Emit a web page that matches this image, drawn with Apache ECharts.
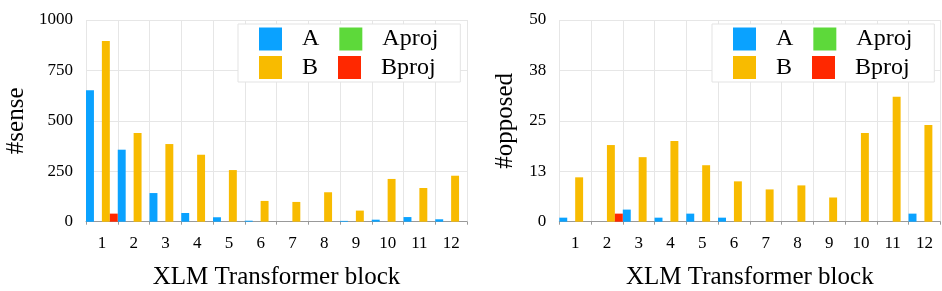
<!DOCTYPE html>
<html>
<head>
<meta charset="utf-8">
<script src="https://cdn.jsdelivr.net/npm/echarts@6/dist/echarts.min.js"></script>
<style>
html,body{margin:0;padding:0;background:#fff;}
#chart{width:942px;height:291px;}
</style>
</head>
<body>
<div id="chart"></div>
<script>
const categories = ['1','2','3','4','5','6','7','8','9','10','11','12'];
const seriesNames = ['A','Aproj','B','Bproj'];

// left panel: #sense
const senseA     = [652, 357, 142, 43, 22, 5, 0, 0, 4, 10, 23, 12];
const senseAproj = [0, 0, 0, 0, 0, 0, 0, 0, 0, 0, 0, 0];
const senseB     = [896, 440, 385, 332, 256, 103, 98, 146, 55, 212, 167, 228];
const senseBproj = [40, 0, 0, 0, 0, 0, 0, 0, 0, 0, 0, 0];
const senseTicks = [0, 250, 500, 750, 1000];

// right panel: #opposed
const oppA     = [1, 0, 3, 1, 2, 1, 0, 0, 0, 0, 0, 2];
const oppAproj = [0, 0, 0, 0, 0, 0, 0, 0, 0, 0, 0, 0];
const oppB     = [11, 19, 16, 20, 14, 10, 8, 9, 6, 22, 31, 24];
const oppBproj = [0, 2, 0, 0, 0, 0, 0, 0, 0, 0, 0, 0];
const oppTicks = [0, 13, 25, 38, 50];

const colors = {A:'#0aa2ff', Aproj:'#5dd93a', B:'#f8bb00', Bproj:'#ff2800'};
const FONT = "'Liberation Serif','Times New Roman',serif";

const chart = echarts.init(document.getElementById('chart'), null, {renderer:'canvas'});

function xAxis(gi){
  return {
    type:'category', gridIndex:gi, data:categories, boundaryGap:true,
    name:'XLM Transformer block', nameLocation:'middle', nameGap:43,
    nameTextStyle:{fontFamily:FONT, fontSize:25, color:'#000'},
    axisLine:{show:true, lineStyle:{color:'#999', width:1}},
    axisTick:{show:true, length:3, lineStyle:{color:'#999'}},
    axisLabel:{fontFamily:FONT, fontSize:17, color:'#000', margin:13},
    splitLine:{show:true, lineStyle:{color:'#e6e6e6'}}
  };
}
function yAxis(gi, name, ticks, gap){
  const mx = ticks[ticks.length-1];
  const step = mx/(ticks.length-1);
  return {
    type:'value', gridIndex:gi, min:0, max:mx, interval:step,
    name:name, nameLocation:'middle', nameGap:gap,
    nameTextStyle:{fontFamily:FONT, fontSize:25, color:'#000'},
    axisLine:{show:false}, axisTick:{show:false},
    axisLabel:{fontFamily:FONT, fontSize:17, color:'#000', margin:13,
      formatter:function(v){ const i = Math.round(v/step); return ticks[i] !== undefined ? String(ticks[i]) : ''; }},
    splitLine:{show:true, lineStyle:{color:'#e6e6e6'}}
  };
}
function bars(gi, data){
  return seriesNames.map((n,i)=>({
    name:n, type:'bar', xAxisIndex:gi, yAxisIndex:gi, data:data[i],
    barGap:'0%', barCategoryGap:'0%',
    itemStyle:{color:colors[n]}, emphasis:{disabled:true}
  }));
}
function legends(boxLeft){
  const common = {
    orient:'horizontal', icon:'rect', itemWidth:23, itemHeight:23, itemGap:20,
    textStyle:{fontFamily:FONT, fontSize:24, color:'#000', padding:[0,0,0,15]},
    selectedMode:false
  };
  return [
    Object.assign({}, common, {data:['A','Aproj'], left:boxLeft, top:24,
      padding:[3,22,31,21], backgroundColor:'#fff', borderColor:'#e3e3e3', borderWidth:1, z:4}),
    Object.assign({}, common, {data:['B','Bproj'], left:boxLeft+21, top:55.5, padding:0, z:6})
  ];
}

const option = {
  animation:false,
  grid:[
    {left:86, top:20, width:381, height:201.7, outerBoundsMode:'none', containLabel:false},
    {left:559.3, top:20, width:381, height:201.7, outerBoundsMode:'none', containLabel:false}
  ],
  legend: legends(238).concat(legends(712)),
  xAxis:[xAxis(0), xAxis(1)],
  yAxis:[yAxis(0,'#sense',senseTicks,57), yAxis(1,'#opposed',oppTicks,41)],
  series: bars(0,[senseA,senseAproj,senseB,senseBproj]).concat(bars(1,[oppA,oppAproj,oppB,oppBproj]))
};
chart.setOption(option);
</script>
</body>
</html>
